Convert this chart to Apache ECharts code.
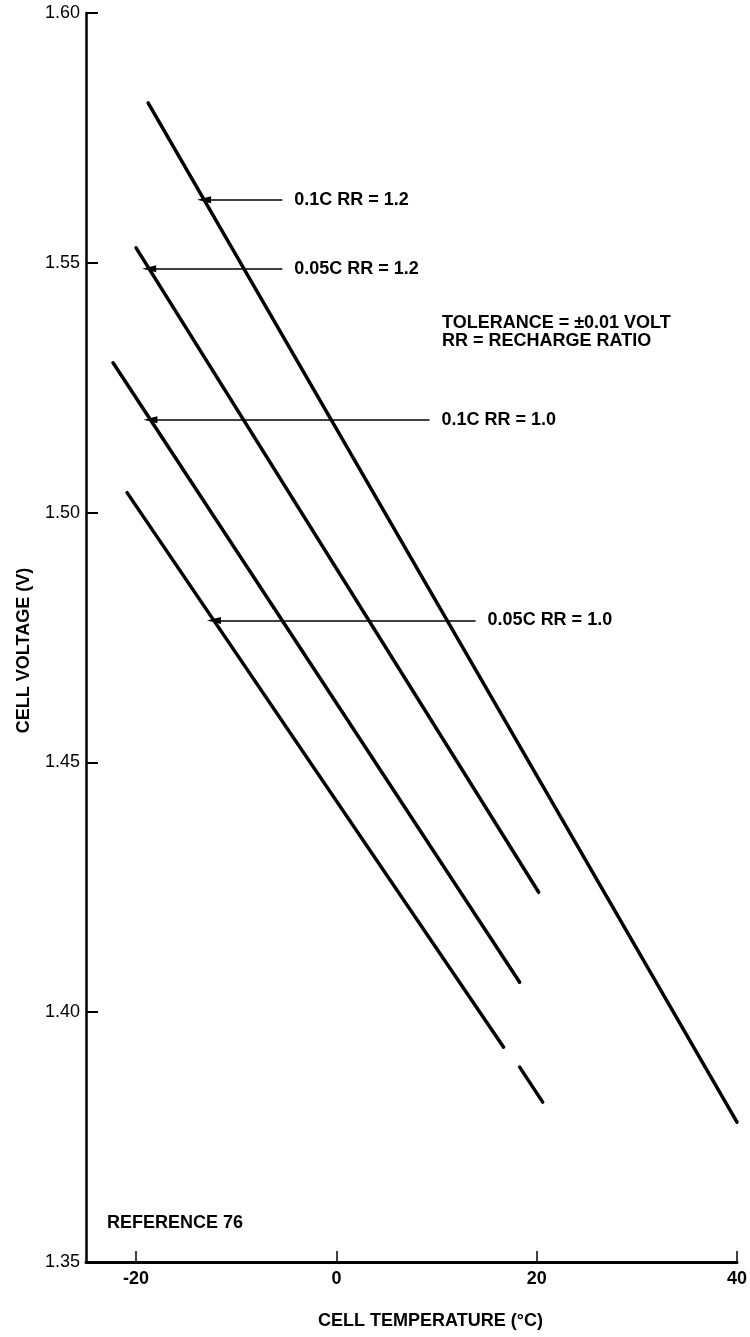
<!DOCTYPE html>
<html>
<head>
<meta charset="utf-8">
<title>Cell voltage vs cell temperature</title>
<script src="https://cdn.jsdelivr.net/npm/echarts@6/dist/echarts.min.js"></script>
<style>
  html, body { margin: 0; padding: 0; background: #ffffff; }
  #chart { width: 750px; height: 1337px; }
</style>
</head>
<body>
<div id="chart"></div>
<script>
// Charge curves: cell voltage (V) against cell temperature (deg C)
const seriesNames = ['0.1C RR = 1.2', '0.05C RR = 1.2', '0.1C RR = 1.0', '0.05C RR = 1.0'];

const curve01C_RR12  = [[-18.8, 1.582], [40.0, 1.378]];
const curve005C_RR12 = [[-20.0, 1.553], [20.2, 1.424]];
const curve01C_RR10  = [[-22.3, 1.530], [18.3, 1.406]];
// the last curve is drawn in two pieces with a short break
const curve005C_RR10a = [[-20.9, 1.504], [16.7, 1.393]];
const curve005C_RR10b = [[18.3, 1.389], [20.6, 1.382]];

// Leader arrows: voltage level of each leader and temperature of its tail
const leaderVolts = [1.5626, 1.5488, 1.5186, 1.4784];
const leaderTailT = [-5.4, -5.4, 9.3, 13.9];

const xTicks = [-20, 0, 20, 40];
const yMin = 1.35, yMax = 1.60, yStep = 0.05;
const xMin = -25, xMax = 40;

const noteLines = ['TOLERANCE = \u00b10.01 VOLT', 'RR = RECHARGE RATIO'];
const sourceNote = 'REFERENCE 76';

// temperature where a straight curve reaches a given voltage
function tempAtVolt(pts, v) {
  const [x0, y0] = pts[0];
  const [x1, y1] = pts[pts.length - 1];
  return x0 + (v - y0) * (x1 - x0) / (y1 - y0);
}

const curves = [curve01C_RR12, curve005C_RR12, curve01C_RR10, curve005C_RR10a];

const FONT = 'Liberation Sans';

function leader(i) {
  return {
    silent: true,
    animation: false,
    symbol: ['none', 'path://M0,0 L4,16 L-4,16 Z'],
    symbolSize: [14, 14],
    symbolKeepAspect: true,
    precision: 4,
    lineStyle: { color: '#000', width: 1.5, type: 'solid' },
    itemStyle: { color: '#000' },
    label: {
      show: true,
      position: 'start',
      distance: 12,
      formatter: seriesNames[i],
      color: '#000',
      fontFamily: FONT,
      fontWeight: 'bold',
      fontSize: 18
    },
    emphasis: { disabled: true },
    data: [[
      { coord: [leaderTailT[i], leaderVolts[i]] },
      { coord: [tempAtVolt(curves[i], leaderVolts[i]), leaderVolts[i]] }
    ]]
  };
}

function curveSeries(name, data, withLeader) {
  const s = {
    name: name,
    type: 'line',
    data: data,
    symbol: 'none',
    animation: false,
    silent: true,
    lineStyle: { color: '#000', width: 3.5, cap: 'round' },
    emphasis: { disabled: true }
  };
  if (withLeader !== undefined) s.markLine = leader(withLeader);
  return s;
}

const chart = echarts.init(document.getElementById('chart'), null, { renderer: 'canvas' });

chart.setOption({
  backgroundColor: '#ffffff',
  animation: false,
  grid: { left: 86, top: 13, width: 656, height: 1249, containLabel: false },
  xAxis: {
    type: 'value',
    min: xMin,
    max: xMax,
    name: 'CELL TEMPERATURE (\u00b0C)',
    nameLocation: 'middle',
    nameGap: 50,
    nameTextStyle: {
      color: '#000', fontFamily: FONT, fontWeight: 'bold', fontSize: 18,
      padding: [0, 0, 0, 38]
    },
    axisLine: { show: true, onZero: false, lineStyle: { color: '#000', width: 3 } },
    axisTick: {
      show: true, inside: true, length: 11,
      customValues: xTicks,
      lineStyle: { color: '#000', width: 1.5 }
    },
    axisLabel: {
      show: true, margin: 8,
      customValues: xTicks,
      color: '#000', fontFamily: FONT, fontWeight: 'bold', fontSize: 18
    },
    splitLine: { show: false }
  },
  yAxis: {
    type: 'value',
    min: yMin,
    max: yMax,
    interval: yStep,
    name: 'CELL VOLTAGE (V)',
    nameLocation: 'middle',
    nameRotate: 90,
    nameGap: 53,
    nameTextStyle: {
      color: '#000', fontFamily: FONT, fontWeight: 'bold', fontSize: 18,
      padding: [0, 26, 0, 0]
    },
    axisLine: { show: true, onZero: false, lineStyle: { color: '#000', width: 2.5 } },
    axisTick: { show: true, inside: true, length: 12, lineStyle: { color: '#000', width: 2 } },
    axisLabel: {
      show: true, margin: 6,
      color: '#000', fontFamily: FONT, fontSize: 18,
      formatter: v => v.toFixed(2)
    },
    splitLine: { show: false }
  },
  series: [
    curveSeries(seriesNames[0], curve01C_RR12, 0),
    curveSeries(seriesNames[1], curve005C_RR12, 1),
    curveSeries(seriesNames[2], curve01C_RR10, 2),
    curveSeries(seriesNames[3], curve005C_RR10a, 3),
    curveSeries(seriesNames[3], curve005C_RR10b)
  ],
  graphic: [
    {
      type: 'text',
      left: 442,
      top: 314,
      silent: true,
      style: {
        text: noteLines.join('\n'),
        fill: '#000',
        font: 'bold 18px "' + FONT + '"',
        lineHeight: 18
      }
    },
    {
      type: 'text',
      left: 107,
      top: 1214,
      silent: true,
      style: {
        text: sourceNote,
        fill: '#000',
        font: 'bold 18px "' + FONT + '"'
      }
    }
  ]
});
</script>
</body>
</html>
